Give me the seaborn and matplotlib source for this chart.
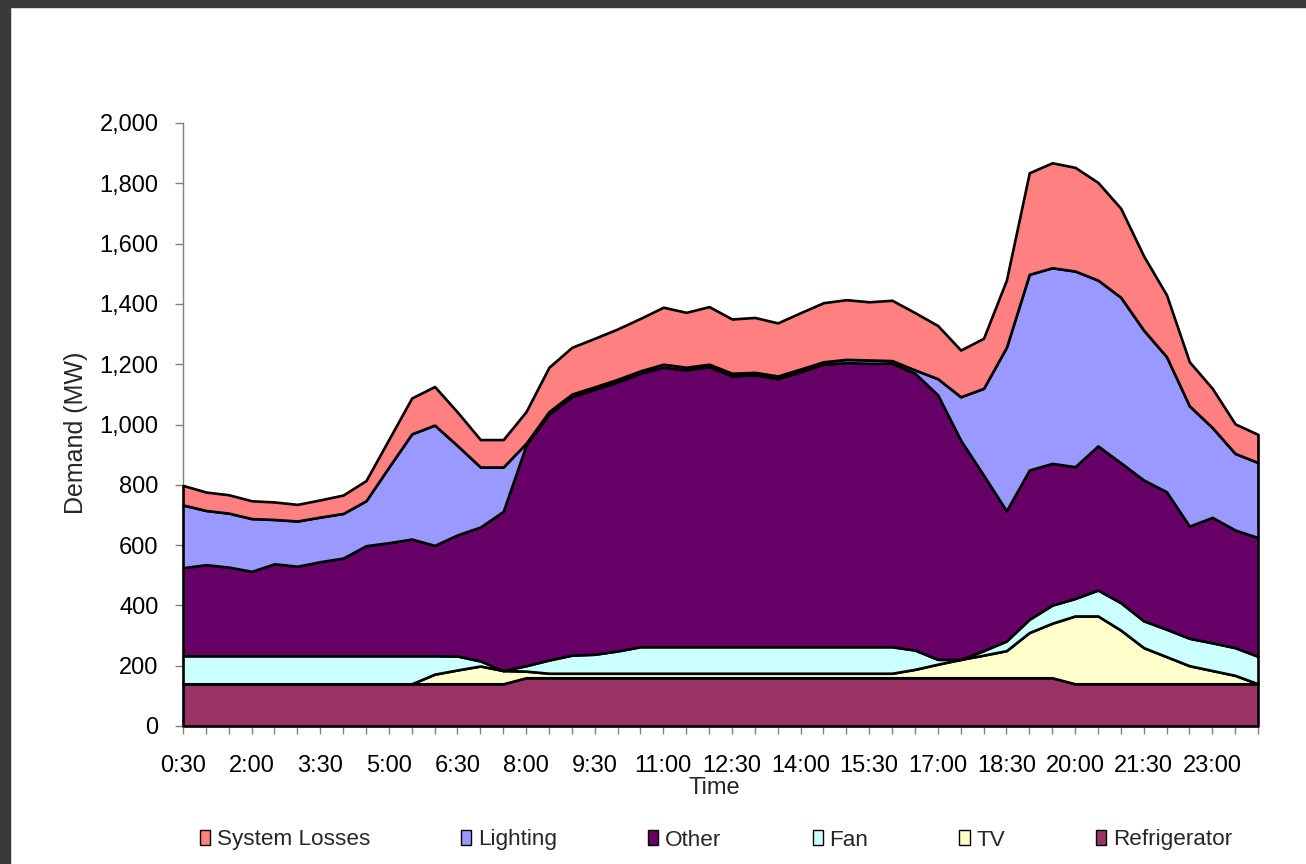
import numpy as np
import pandas as pd
import matplotlib
matplotlib.use("Agg")
import matplotlib.pyplot as plt
import seaborn as sns
from matplotlib.patches import Patch, Rectangle
from matplotlib.ticker import FuncFormatter

# half-hourly demand by end use (MW)
times = ["0:30", "1:00", "1:30", "2:00", "2:30", "3:00", "3:30", "4:00",
         "4:30", "5:00", "5:30", "6:00", "6:30", "7:00", "7:30", "8:00",
         "8:30", "9:00", "9:30", "10:00", "10:30", "11:00", "11:30", "12:00",
         "12:30", "13:00", "13:30", "14:00", "14:30", "15:00", "15:30", "16:00",
         "16:30", "17:00", "17:30", "18:00", "18:30", "19:00", "19:30", "20:00",
         "20:30", "21:00", "21:30", "22:00", "22:30", "23:00", "23:30", "24:00"]

refrigerator = [140, 140, 140, 140, 140, 140, 140, 140, 140, 140, 140, 140,
                140, 140, 140, 160, 160, 160, 160, 160, 160, 160, 160, 160,
                160, 160, 160, 160, 160, 160, 160, 160, 160, 160, 160, 160,
                160, 160, 160, 140, 140, 140, 140, 140, 140, 140, 140, 140]
tv = [0, 0, 0, 0, 0, 0, 0, 0, 0, 0, 0, 32, 46, 59, 44, 22,
      15, 15, 15, 15, 15, 15, 15, 15, 15, 15, 15, 15, 15, 15, 15, 15,
      28, 45, 61, 75, 90, 150, 181, 225, 225, 178, 120, 90, 60, 44, 28, 0]
fan = [93, 93, 93, 93, 93, 93, 93, 93, 93, 93, 93, 61, 46, 17, 0, 18,
       44, 60, 63, 74, 88, 88, 88, 88, 88, 88, 88, 88, 88, 88, 88, 88,
       64, 16, 0, 15, 32, 44, 60, 58, 86, 91, 89, 91, 91, 92, 92, 91]
other = [292, 302, 294, 280, 305, 297, 312, 324, 365, 375, 387, 366,
         402, 444, 528, 732, 816, 857, 879, 892, 907, 927, 918, 929,
         898, 902, 889, 912, 937, 942, 940, 940, 918, 877, 727, 582,
         432, 495, 470, 437, 478, 464, 467, 456, 372, 416, 390, 394]
lighting = [208, 180, 179, 175, 147, 150, 148, 148, 149, 251, 349, 399,
            296, 199, 147, 6, 8, 9, 8, 9, 8, 10, 9, 8,
            9, 8, 9, 9, 8, 11, 11, 9, 11, 54, 144, 288,
            542, 649, 649, 649, 550, 549, 497, 448, 399, 298, 254, 249]
losses = [65, 61, 61, 59, 58, 55, 57, 61, 67, 92, 119, 128,
          111, 91, 91, 105, 147, 155, 161, 167, 174, 189, 182, 191,
          180, 182, 176, 187, 196, 198, 193, 200, 190, 176, 155, 166,
          223, 337, 348, 344, 324, 295, 246, 205, 146, 130, 98, 93]

series = ["Refrigerator", "TV", "Fan", "Other", "Lighting", "System Losses"]
colours = ["#993366", "#FFFFCC", "#CCFFFF", "#660066", "#9999FF", "#FF8080"]

df = pd.DataFrame({"Refrigerator": refrigerator, "TV": tv, "Fan": fan,
                   "Other": other, "Lighting": lighting,
                   "System Losses": losses}, index=times)

sns.set_theme(style="white")
plt.rcParams["font.family"] = ["Liberation Sans", "DejaVu Sans"]

W, H = 1306, 864
fig = plt.figure(figsize=(W / 100, H / 100), dpi=100)
ax = fig.add_axes([183 / W, 1 - 726 / H, 1075 / W, 603 / H])

x = np.arange(len(times))
polys = ax.stackplot(x, [df[s].values for s in series], colors=colours,
                     edgecolor="black", linewidth=1.9)
for p in polys:
    p.set_clip_on(False)
    p.set_zorder(3)

ax.set_xlim(0, len(times) - 1)
ax.set_ylim(0, 2000)
ax.set_yticks(range(0, 2001, 200))
ax.yaxis.set_major_formatter(FuncFormatter(lambda v, p: f"{v:,.0f}"))
ax.set_xticks(x)
ax.set_xticklabels([t if i % 3 == 0 else "" for i, t in enumerate(times)])
ax.tick_params(axis="both", direction="out", length=5.5, width=1,
               color="#808080", labelsize=17, labelcolor="black",
               left=True, bottom=True)
ax.tick_params(axis="x", pad=15.5)
ax.tick_params(axis="y", pad=12)
sns.despine(ax=ax)
for side in ["left", "bottom"]:
    ax.spines[side].set_color("#808080")
    ax.spines[side].set_linewidth(1)

ax.set_xlabel("Time", fontsize=17, va="center")
ax.xaxis.set_label_coords(0.494, -0.102)
ax.set_ylabel("Demand (MW)", fontsize=18, va="center")
ax.yaxis.set_label_coords(-0.1, 0.486)

# legend lists the top layer first, like the original
handles = [Patch(facecolor=c, edgecolor="black", linewidth=1)
           for c in colours[::-1]]
fig.legend(handles, series[::-1], loc="center", ncol=6, frameon=False,
           bbox_to_anchor=(716 / W, 1 - 840 / H), fontsize=16.2,
           handlelength=0.45, handleheight=0.6, handletextpad=0.3,
           columnspacing=4.05, borderaxespad=0)

# dark frame of the screenshot
fig.patches.append(Rectangle((0, 1 - 7 / H), 1, 7 / H, transform=fig.transFigure,
                             color="#3a3a3a", zorder=10))
fig.patches.append(Rectangle((0, 0), 10 / W, 1, transform=fig.transFigure,
                             color="#3a3a3a", zorder=10))

fig.savefig("out.png", dpi=100)
